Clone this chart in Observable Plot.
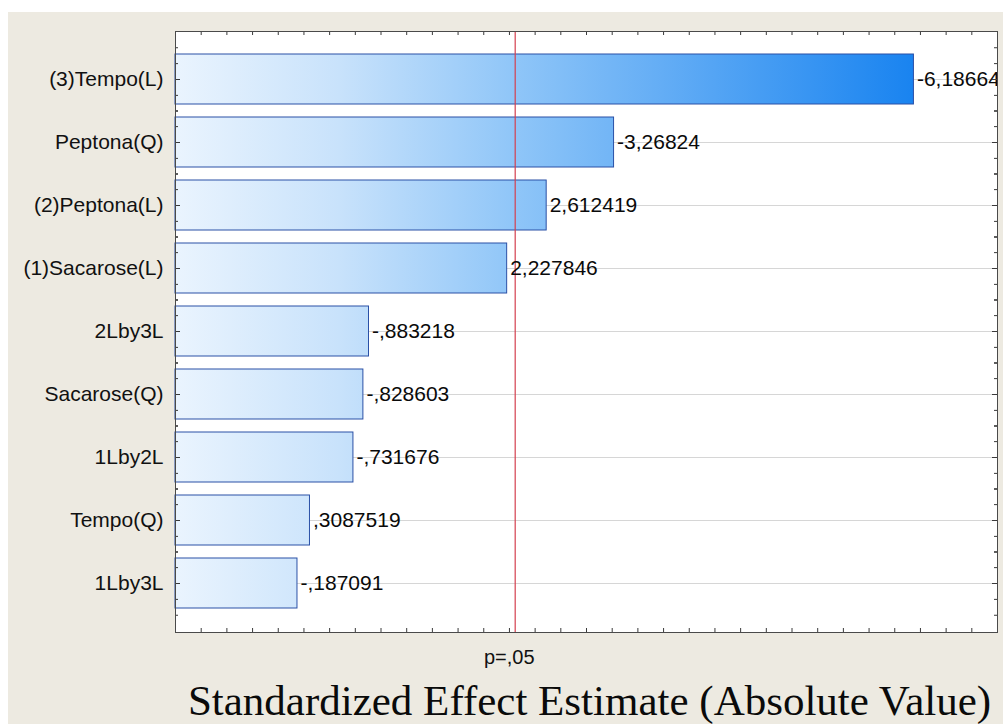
<!DOCTYPE html>
<html>
<head>
<meta charset="utf-8">
<script src="https://cdn.jsdelivr.net/npm/d3@7"></script>
<script src="https://cdn.jsdelivr.net/npm/@observablehq/plot@0.6"></script>
<style>
  html, body { margin: 0; background: #ffffff; }
  #chart { padding: 12px 0 0 8px; }
  #chart svg { display: block; background: #edeae1; }
</style>
</head>
<body>
<div id="chart"></div>
<script>
// Pareto chart of standardized effects (signed t values), sorted by magnitude
const factors = ["(3)Tempo(L)", "Peptona(Q)", "(2)Peptona(L)", "(1)Sacarose(L)", "2Lby3L", "Sacarose(Q)", "1Lby2L", "Tempo(Q)", "1Lby3L"];
const effects = [-6.18664, -3.26824, 2.612419, 2.227846, -0.883218, -0.828603, -0.731676, 0.3087519, -0.187091];

// significance threshold: t(0.975, 8 df)
const tCritical = 2.306;
const pLabel = "p=,05";
const xTitle = "Standardized Effect Estimate (Absolute Value)";

// horizontal scale extent and minor tick spacing
const xDomain = [-1, 7];
const xTickStep = 0.25;

const rows = factors.map((factor, i) => ({factor, effect: effects[i], size: Math.abs(effects[i])}));

// Statistica-style number text: comma decimal, no leading zero
const statFmt = v => String(v).replace(/^(-?)0\./, "$1.").replace(".", ",");

// layout
const W = 995, H = 712;
const mL = 167, mR = 6, mT = 19, mB = 92;
const innerW = W - mL - mR, innerH = H - mT - mB;
const padInner = 0.2, padOuter = 0.332;
const step = innerH / (factors.length - padInner + 2 * padOuter);

const sans = "'Liberation Sans', Arial, sans-serif";
const serif = "'Liberation Serif', 'Times New Roman', serif";

// gradient shared by all bars, laid out across the plot frame
function barGradient(index, scales, values, dims) {
  const ns = "http://www.w3.org/2000/svg";
  const x0 = scales && scales.x ? scales.x(xDomain[0]) : dims.marginLeft;
  const x1 = scales && scales.x ? scales.x(xDomain[1]) : dims.width - dims.marginRight;
  const defs = document.createElementNS(ns, "defs");
  const g = document.createElementNS(ns, "linearGradient");
  g.setAttribute("id", "barFill");
  g.setAttribute("gradientUnits", "userSpaceOnUse");
  g.setAttribute("x1", x0); g.setAttribute("x2", x1);
  g.setAttribute("y1", 0); g.setAttribute("y2", 0);
  [[0, "#eaf4fe"], [0.2, "#c8e2fb"], [0.41, "#90c6f8"], [0.894, "#1a84f0"], [1, "#0f7cee"]].forEach(([o, c]) => {
    const s = document.createElementNS(ns, "stop");
    s.setAttribute("offset", o);
    s.setAttribute("stop-color", c);
    g.append(s);
  });
  defs.append(g);
  return defs;
}

const xTicks = d3.range(xDomain[0], xDomain[1] + 1e-9, xTickStep);
const tickColor = "#3a3a3a";

// minor ticks on the category axis, a quarter band apart
const yMinor = [];
for (const k of [-2, -1, 1, 2]) {
  yMinor.push(Plot.tickY(factors, {y: d => d, dy: k * step / 4, insetRight: innerW - 3, stroke: tickColor}));
  yMinor.push(Plot.tickY(factors, {y: d => d, dy: k * step / 4, insetLeft: innerW - 3, stroke: tickColor}));
}

const chart = Plot.plot({
  width: W,
  height: H,
  marginLeft: mL,
  marginRight: mR,
  marginTop: mT,
  marginBottom: mB,
  style: {background: "#edeae1", fontFamily: sans},
  x: {domain: xDomain, axis: null},
  y: {domain: factors, paddingInner: padInner, paddingOuter: padOuter, axis: null},
  marks: [
    barGradient,
    Plot.frame({fill: "#ffffff", stroke: null}),
    Plot.gridY(factors, {stroke: "#d6d6d6", strokeOpacity: 1}),
    Plot.barX(rows, {x1: xDomain[0], x2: "size", y: "factor", fill: "url(#barFill)", stroke: "#2a50a6", strokeWidth: 1}),
    Plot.ruleX([tCritical], {stroke: "#d4404f", strokeWidth: 1.2}),
    Plot.text(rows, {x: "size", y: "factor", text: d => statFmt(d.effect), textAnchor: "start", dx: 3, fontSize: 21, fill: "#0a0a0a", letterSpacing: 0.3, clip: true}),
    // inward ticks on all four sides
    Plot.tickX(xTicks, {x: d => d, insetBottom: innerH - 4, stroke: tickColor}),
    Plot.tickX(xTicks, {x: d => d, insetTop: innerH - 4, stroke: tickColor}),
    Plot.tickY(factors, {y: d => d, insetRight: innerW - 5, stroke: tickColor}),
    Plot.tickY(factors, {y: d => d, insetLeft: innerW - 5, stroke: tickColor}),
    ...yMinor,
    Plot.frame({stroke: "#4a4a4a"}),
    Plot.axisY({tickSize: 0, tickPadding: 12, fontSize: 21, fill: "#111", label: null}),
    Plot.text([pLabel], {x: tCritical, frameAnchor: "bottom", lineAnchor: "bottom", dy: 31, dx: -6, fontSize: 20, fill: "#111"}),
    Plot.text([xTitle], {frameAnchor: "bottom", lineAnchor: "bottom", dy: 82, dx: 3, fontSize: 43, fontFamily: serif, fill: "#0a0a0a"})
  ]
});

document.getElementById("chart").append(chart);
</script>
</body>
</html>
